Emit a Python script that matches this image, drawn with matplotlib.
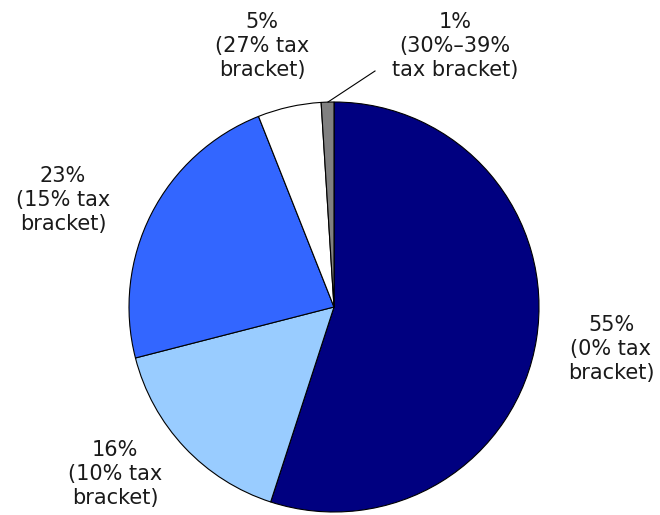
import matplotlib
matplotlib.use("Agg")
import matplotlib.pyplot as plt

labels = ["55%\n(0% tax\nbracket)", "16%\n(10% tax\nbracket)", "23%\n(15% tax\nbracket)",
          "5%\n(27% tax\nbracket)", "1%\n(30%\u201339%\ntax bracket)"]
values = [55, 16, 23, 5, 1]
colors = ["#000080", "#99CCFF", "#3366FF", "#FFFFFF", "#808080"]

W, H = 660, 515
fig = plt.figure(figsize=(W / 100, H / 100), dpi=100)
ax = fig.add_axes([0, 0, 1, 1])

cx, cy, r = 334, H - 307, 205
ax.pie(values, colors=colors, startangle=90, counterclock=False,
       center=(cx, cy), radius=r, frame=True,
       wedgeprops=dict(edgecolor="black", linewidth=0.8))
ax.set_xlim(0, W)
ax.set_ylim(0, H)
ax.set_aspect("equal")
ax.axis("off")

label_pos = [(611, H - 349), (115, H - 474), (63, H - 200), (262, H - 46), (455, H - 46)]
for txt, (x, y) in zip(labels, label_pos):
    ax.text(x, y, txt, ha="center", va="center", fontsize=15, color="#1a1a1a",
            family="DejaVu Sans", linespacing=1.25)

# leader line for 1% slice
ax.plot([328, 375], [H - 102, H - 71], color="black", linewidth=0.8)

fig.savefig("out.png", dpi=100)
